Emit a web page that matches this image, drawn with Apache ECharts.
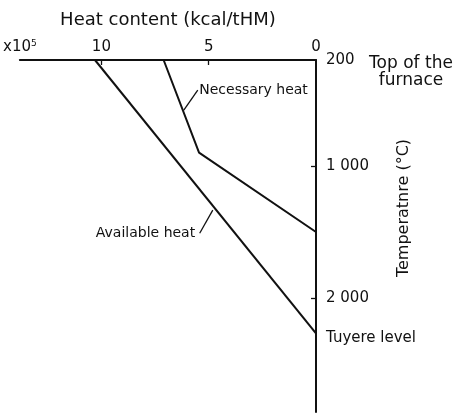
<!DOCTYPE html>
<html>
<head>
<meta charset="utf-8">
<script src="https://cdn.jsdelivr.net/npm/echarts@6/dist/echarts.min.js"></script>
<style>
  html, body { margin: 0; padding: 0; background: #fff; }
  #chart { width: 458px; height: 414px; }
</style>
</head>
<body>
<div id="chart"></div>
<script>
// heat content in units of 10^5 kcal/tHM, temperature in °C
const heatLabelValues = [0, 5, 10]
const heatTickValues = [5, 10]
const heatMax = 13.8
const tempLabelValues = [200, 1000, 2000]
const tempTickValues = [1000, 2000]
const tempMin = 200
const tempMax = 2860
const tuyereLabelTemp = 2300

const availableHeat = [10.3, 0]
const availableTemp = [200, 2265]
const necessaryHeat = [7.1, 5.45, 0]
const necessaryTemp = [200, 900, 1500]

// leader lines for the two curve labels
const necessaryLeaderHeat = [6.16, 5.51]
const necessaryLeaderTemp = [578, 427]
const availableLeaderHeat = [5.42, 4.81]
const availableLeaderTemp = [1509, 1335]

const ink = '#111'
const font = 'DejaVu Sans'

const pair = (xs, ys) => xs.map((x, i) => [x, ys[i]])

const chart = echarts.init(document.getElementById('chart'))

const lineStyle = { color: ink, width: 2 }
const leaderStyle = { color: ink, width: 1.3 }
// invisible symbols so the leader labels get drawn
const hiddenSymbol = { symbol: 'circle', symbolSize: 1, itemStyle: { color: 'rgba(0,0,0,0)' } }

chart.setOption({
  animation: false,
  textStyle: { fontFamily: font, color: ink },
  grid: { left: 18, right: 142, top: 60, bottom: 2 },
  xAxis: {
    type: 'value',
    position: 'top',
    inverse: true,
    min: 0,
    max: heatMax,
    name: 'Heat content (kcal/tHM)',
    nameLocation: 'middle',
    nameGap: 31,
    nameMoveOverlap: false,
    nameTextStyle: { fontSize: 18, color: ink, fontFamily: font },
    axisLine: { lineStyle: { color: ink, width: 2 } },
    axisTick: { show: true, inside: true, length: 5, customValues: heatTickValues, lineStyle: { color: ink, width: 1.3 } },
    axisLabel: {
      customValues: heatLabelValues.concat([heatMax]),
      margin: 5,
      fontSize: 15,
      color: ink,
      formatter: v => (v === heatMax ? 'x10{s|5}' : String(v)),
      rich: { s: { fontSize: 9, verticalAlign: 'top', padding: [0, 0, 7, 0] } }
    },
    splitLine: { show: false }
  },
  yAxis: {
    type: 'value',
    position: 'right',
    inverse: true,
    min: tempMin,
    max: tempMax,
    name: 'Temperatnre (°C)',
    nameLocation: 'middle',
    nameRotate: 90,
    nameGap: 80,
    nameMoveOverlap: false,
    nameTextStyle: { fontSize: 16, color: ink, fontFamily: font, padding: [0, 0, 0, 56] },
    axisLine: { show: true, lineStyle: { color: ink, width: 2 } },
    axisTick: { show: true, inside: true, length: 5, customValues: tempTickValues, lineStyle: { color: ink, width: 1.3 } },
    axisLabel: {
      customValues: tempLabelValues.concat([tuyereLabelTemp]),
      margin: 10,
      fontSize: 15,
      color: ink,
      formatter: v => {
        if (v === tuyereLabelTemp) return '{t|Tuyere level}'
        return v >= 1000 ? String(v).replace(/(\d)(\d{3})$/, '$1 $2') : String(v)
      },
      rich: { t: { fontSize: 15, fontFamily: font, color: ink } }
    },
    splitLine: { show: false }
  },
  graphic: [
    {
      type: 'text',
      x: 411,
      y: 55,
      style: {
        text: 'Top of the\nfurnace',
        align: 'center',
        fontSize: 17,
        lineHeight: 17,
        fontFamily: font,
        fill: ink
      }
    }
  ],
  series: [
    {
      name: 'Available heat',
      type: 'line',
      symbol: 'none',
      lineStyle,
      data: pair(availableHeat, availableTemp)
    },
    {
      name: 'Necessary heat',
      type: 'line',
      symbol: 'none',
      lineStyle,
      data: pair(necessaryHeat, necessaryTemp)
    },
    {
      type: 'line',
      ...hiddenSymbol,
      lineStyle: leaderStyle,
      label: { show: false },
      data: [
        { value: [necessaryLeaderHeat[0], necessaryLeaderTemp[0]] },
        {
          value: [necessaryLeaderHeat[1], necessaryLeaderTemp[1]],
          label: { show: true, position: 'right', distance: 1, formatter: 'Necessary heat', fontSize: 14, color: ink }
        }
      ]
    },
    {
      type: 'line',
      ...hiddenSymbol,
      lineStyle: leaderStyle,
      label: { show: false },
      data: [
        {
          value: [availableLeaderHeat[0], availableLeaderTemp[0]],
          label: { show: true, position: 'left', distance: 4, formatter: 'Available heat', fontSize: 14, color: ink }
        },
        { value: [availableLeaderHeat[1], availableLeaderTemp[1]] }
      ]
    }
  ]
})
</script>
</body>
</html>
